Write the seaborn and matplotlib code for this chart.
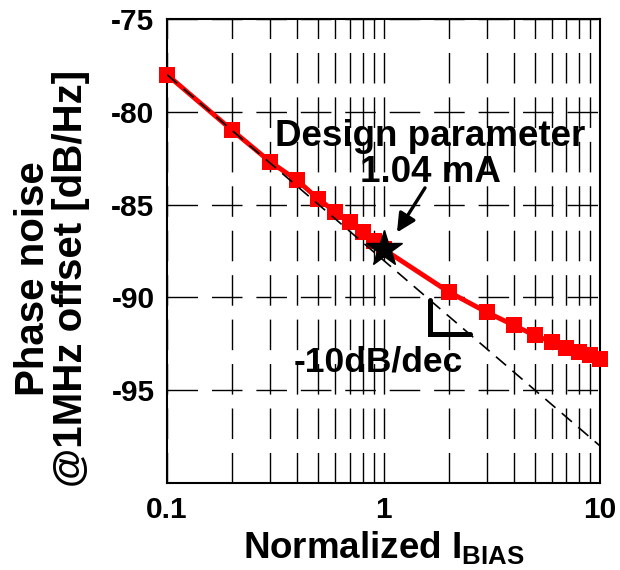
import numpy as np
import pandas as pd
import matplotlib
matplotlib.use("Agg")
import matplotlib.pyplot as plt
from matplotlib.ticker import FixedLocator, NullFormatter, LogLocator
import seaborn as sns

# Normalized bias current and measured phase noise at 1 MHz offset
i_bias = [0.1, 0.2, 0.3, 0.4, 0.5, 0.6, 0.7, 0.8, 0.9, 1.0,
          2.0, 3.0, 4.0, 5.0, 6.0, 7.0, 8.0, 9.0, 10.0]
phase_noise = [-78.0, -81.0, -82.7, -83.7, -84.7, -85.4, -85.95, -86.45, -86.95, -87.4,
               -89.7, -90.8, -91.5, -92.05, -92.4, -92.7, -92.95, -93.1, -93.3]

# Chosen design point (1.04 mA)
design_x = [1.0]
design_y = [-87.4]

# -10 dB/dec reference line, anchored at the first measurement
ref_x = [0.1, 10.0]
ref_slope = -10.0  # dB per decade
ref_y = [-78.0 + ref_slope * np.log10(x / 0.1) for x in ref_x]

x_ticks = [0.1, 1, 10]
x_tick_labels = ["0.1", "1", "10"]
y_ticks = [-95, -90, -85, -80, -75]
y_tick_labels = ["-95", "-90", "-85", "-80", "-75"]

sns.set_theme(style="white")
plt.rcParams["font.family"] = ["Liberation Sans", "DejaVu Sans"]
plt.rcParams["font.weight"] = "bold"
for key in ("text.color", "axes.labelcolor", "xtick.color", "ytick.color"):
    plt.rcParams[key] = "black"
plt.rcParams["mathtext.fontset"] = "custom"
plt.rcParams["mathtext.bf"] = "Liberation Sans:bold"
plt.rcParams["mathtext.rm"] = "Liberation Sans:bold"
plt.rcParams["mathtext.it"] = "Liberation Sans:bold"
plt.rcParams["mathtext.default"] = "bf"

fig = plt.figure(figsize=(6.2, 5.7), dpi=100)
ax = fig.add_axes([0.2694, 0.1526, 0.6983, 0.8141])

df = pd.DataFrame({"ibias": i_bias, "pn": phase_noise})
sns.lineplot(data=df, x="ibias", y="pn", ax=ax, color="#ff0000", linewidth=3.5,
             marker="s", markersize=11.5, markeredgewidth=0, zorder=3, clip_on=False)

ax.set_xscale("log")
ax.set_xlim(0.1, 10)
ax.set_ylim(-100, -75)

# reference slope line, drawn above the measured curve
ax.plot(ref_x, ref_y, color="black", linewidth=1.2, linestyle=(0, (8, 5)), zorder=4)

# design point star
ax.plot(design_x, design_y, marker="*", color="black", markersize=27,
        linestyle="none", zorder=5)

# slope bracket under the reference line
def ref_at(x):
    return -78.0 + ref_slope * np.log10(x / 0.1)

bx0, bx1 = 1.64, 2.51
ax.plot([bx0, bx0, bx1], [ref_at(bx0), ref_at(bx1), ref_at(bx1)],
        color="black", linewidth=3.6, solid_joinstyle="miter", zorder=4)

# ticks and grid
ax.xaxis.set_major_locator(FixedLocator(x_ticks))
ax.set_xticklabels(x_tick_labels)
ax.xaxis.set_minor_locator(LogLocator(base=10, subs=np.arange(2, 10)))
ax.xaxis.set_minor_formatter(NullFormatter())
ax.set_yticks(y_ticks)
ax.set_yticklabels(y_tick_labels)
ax.tick_params(axis="both", which="both", length=0, labelsize=21.5, pad=9,
               labelcolor="black")

grid_kw = dict(color="black", linewidth=1.0, linestyle=(0, (22, 10)))
ax.grid(True, which="major", axis="y", **grid_kw)
ax.grid(True, which="both", axis="x", **grid_kw)
ax.set_axisbelow(True)

for sp in ax.spines.values():
    sp.set_color("black")
    sp.set_linewidth(1.5)
    sp.set_visible(True)

ax.set_xlabel(r"Normalized $I_{BIAS}$", fontsize=26.5, fontweight="bold", labelpad=4)
ax.set_ylabel("Phase noise\n@1MHz offset [dB/Hz]", fontsize=29, fontweight="bold",
              linespacing=1.0)
ax.yaxis.set_label_coords(-0.178, 0.44)

# annotations
ax.text(1.64, -81.83, "Design parameter", fontsize=26.5, fontweight="bold",
        ha="center", va="baseline", zorder=6)
ax.text(1.64, -83.8, "1.04 mA", fontsize=26.5, fontweight="bold",
        ha="center", va="baseline", zorder=6)
ax.annotate("", xy=(1.154, -86.5), xytext=(1.555, -84.1),
            arrowprops=dict(arrowstyle="-|>", color="black", lw=2.4,
                            mutation_scale=28, shrinkA=0, shrinkB=0), zorder=6)
ax.text(0.948, -94.0, "-10dB/dec", fontsize=25.5, fontweight="bold",
        ha="center", va="baseline", zorder=6)

fig.savefig("out.png", dpi=100)
